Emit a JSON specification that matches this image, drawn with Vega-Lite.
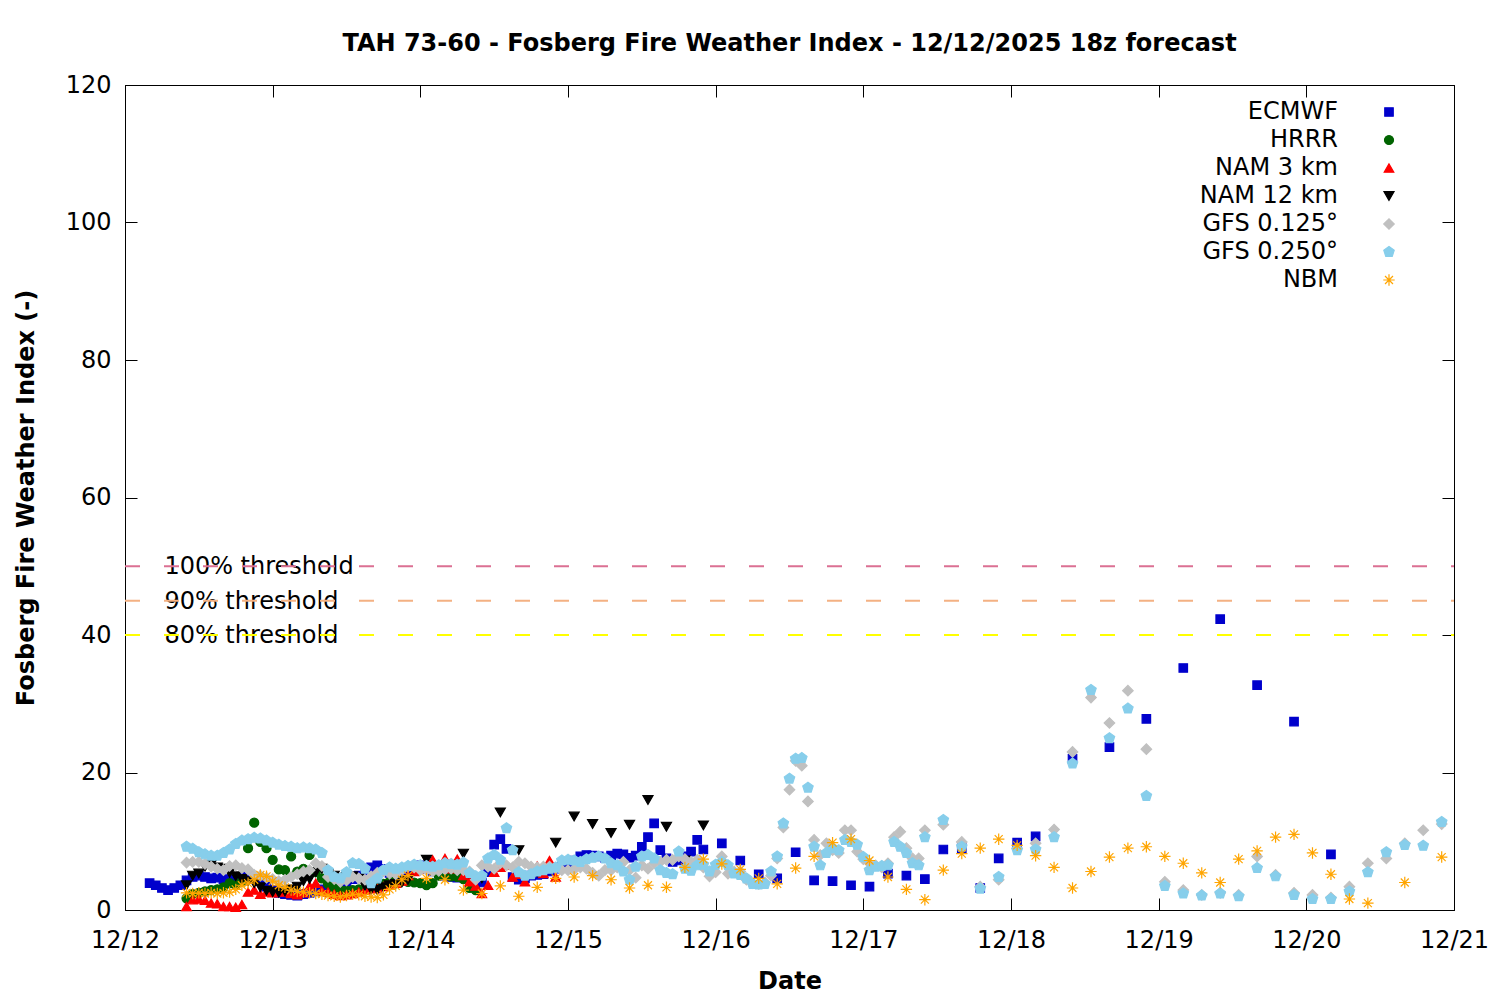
{
  "$schema": "https://vega.github.io/schema/vega-lite/v6.json",
  "description": "Fosberg Fire Weather Index forecast by model for TAH 73-60, 12/12/2025 18z run.",
  "width": 1329,
  "height": 825,
  "autosize": {"type": "none"},
  "padding": {"left": 125, "top": 85, "right": 46, "bottom": 90},
  "background": "white",
  "title": {
    "text": "TAH 73-60 - Fosberg Fire Weather Index - 12/12/2025 18z forecast",
    "fontSize": 24,
    "fontWeight": "bold",
    "color": "black",
    "anchor": "middle",
    "baseline": "middle",
    "offset": 5
  },
  "config": {
    "font": "DejaVu Sans",
    "view": {"stroke": "black", "strokeWidth": 1},
    "axis": {
      "labelFont": "DejaVu Sans",
      "labelFontSize": 24,
      "labelColor": "black",
      "titleFont": "DejaVu Sans",
      "titleFontSize": 24,
      "titleFontWeight": "bold",
      "titleColor": "black",
      "domainColor": "black",
      "tickColor": "black",
      "tickSize": -12,
      "grid": false,
      "labelFlush": false
    }
  },
  "layer": [
    {
      "data": {
        "values": [
          {"label": "100% threshold", "threshold": 50},
          {"label": "90% threshold", "threshold": 45},
          {"label": "80% threshold", "threshold": 40}
        ]
      },
      "layer": [
        {
          "mark": {"type": "text", "align": "left", "baseline": "middle", "dy": 1, "fontSize": 24, "font": "DejaVu Sans", "color": "black"},
          "encoding": {
            "x": {"datum": 6.4, "type": "quantitative", "scale": {"domain": [0, 216], "nice": false, "zero": false},
              "axis": {"orient": "top", "values": [0, 24, 48, 72, 96, 120, 144, 168, 192, 216], "labels": false, "title": null}},
            "y": {"field": "threshold", "type": "quantitative", "scale": {"domain": [0, 120], "nice": false},
              "axis": {"orient": "right", "values": [0, 20, 40, 60, 80, 100, 120], "labels": false, "title": null}},
            "text": {"field": "label"}
          }
        },
        {
          "transform": [{"filter": "datum.threshold == 50"}],
          "mark": {"type": "rule", "color": "#db7093", "strokeWidth": 2, "strokeDash": [15, 24], "strokeDashOffset": 12},
          "encoding": {"y": {"field": "threshold", "type": "quantitative",
            "axis": {"orient": "right", "values": [0, 20, 40, 60, 80, 100, 120], "labels": false, "title": null}}}
        },
        {
          "transform": [{"filter": "datum.threshold == 45"}],
          "mark": {"type": "rule", "color": "#f4b183", "strokeWidth": 2, "strokeDash": [15, 24], "strokeDashOffset": 12},
          "encoding": {"y": {"field": "threshold", "type": "quantitative",
            "axis": {"orient": "right", "values": [0, 20, 40, 60, 80, 100, 120], "labels": false, "title": null}}}
        },
        {
          "transform": [{"filter": "datum.threshold == 40"}],
          "mark": {"type": "rule", "color": "#ffff00", "strokeWidth": 2, "strokeDash": [15, 24], "strokeDashOffset": 12},
          "encoding": {"y": {"field": "threshold", "type": "quantitative",
            "axis": {"orient": "right", "values": [0, 20, 40, 60, 80, 100, 120], "labels": false, "title": null}}}
        }
      ]
    },
    {
      "data": {
        "values": [
          {"model":"ECMWF","hour":4,"fwi":3.9},{"model":"ECMWF","hour":5,"fwi":3.6},{"model":"ECMWF","hour":6,"fwi":3.2},{"model":"ECMWF","hour":7,"fwi":2.9},{"model":"ECMWF","hour":8,"fwi":3.2},{"model":"ECMWF","hour":9,"fwi":3.6},{"model":"ECMWF","hour":10,"fwi":4.3},{"model":"ECMWF","hour":11,"fwi":4.8},{"model":"ECMWF","hour":12,"fwi":5.0},{"model":"ECMWF","hour":13,"fwi":4.8},{"model":"ECMWF","hour":14,"fwi":4.6},{"model":"ECMWF","hour":15,"fwi":4.7},{"model":"ECMWF","hour":16,"fwi":4.5},{"model":"ECMWF","hour":17,"fwi":4.3},{"model":"ECMWF","hour":18,"fwi":4.4},{"model":"ECMWF","hour":19,"fwi":4.8},{"model":"ECMWF","hour":20,"fwi":5.0},{"model":"ECMWF","hour":21,"fwi":4.6},{"model":"ECMWF","hour":22,"fwi":4.2},{"model":"ECMWF","hour":23,"fwi":3.4},{"model":"ECMWF","hour":24,"fwi":2.9},{"model":"ECMWF","hour":25,"fwi":2.5},{"model":"ECMWF","hour":26,"fwi":2.3},{"model":"ECMWF","hour":27,"fwi":2.2},{"model":"ECMWF","hour":28,"fwi":2.1},{"model":"ECMWF","hour":29,"fwi":2.3},{"model":"ECMWF","hour":30,"fwi":2.5},{"model":"ECMWF","hour":31,"fwi":2.7},{"model":"ECMWF","hour":32,"fwi":3.0},{"model":"ECMWF","hour":33,"fwi":3.2},{"model":"ECMWF","hour":34,"fwi":3.5},{"model":"ECMWF","hour":35,"fwi":3.7},{"model":"ECMWF","hour":36,"fwi":4.0},{"model":"ECMWF","hour":37,"fwi":4.5},{"model":"ECMWF","hour":38,"fwi":5.0},{"model":"ECMWF","hour":39,"fwi":5.6},{"model":"ECMWF","hour":40,"fwi":6.2},{"model":"ECMWF","hour":41,"fwi":6.5},{"model":"ECMWF","hour":42,"fwi":6.0},{"model":"ECMWF","hour":43,"fwi":5.4},{"model":"ECMWF","hour":44,"fwi":5.0},{"model":"ECMWF","hour":45,"fwi":5.2},{"model":"ECMWF","hour":46,"fwi":5.6},{"model":"ECMWF","hour":47,"fwi":6.0},{"model":"ECMWF","hour":48,"fwi":6.5},{"model":"ECMWF","hour":49,"fwi":6.0},{"model":"ECMWF","hour":50,"fwi":5.6},{"model":"ECMWF","hour":51,"fwi":5.3},{"model":"ECMWF","hour":52,"fwi":5.0},{"model":"ECMWF","hour":53,"fwi":4.8},{"model":"ECMWF","hour":54,"fwi":4.7},{"model":"ECMWF","hour":55,"fwi":4.9},{"model":"ECMWF","hour":56,"fwi":4.6},{"model":"ECMWF","hour":57,"fwi":4.2},{"model":"ECMWF","hour":58,"fwi":4.0},{"model":"ECMWF","hour":59,"fwi":5.5},{"model":"ECMWF","hour":60,"fwi":9.5},{"model":"ECMWF","hour":61,"fwi":10.3},{"model":"ECMWF","hour":62,"fwi":8.9},{"model":"ECMWF","hour":63,"fwi":4.8},{"model":"ECMWF","hour":64,"fwi":4.4},{"model":"ECMWF","hour":65,"fwi":4.6},{"model":"ECMWF","hour":66,"fwi":5.0},{"model":"ECMWF","hour":67,"fwi":5.1},{"model":"ECMWF","hour":68,"fwi":5.2},{"model":"ECMWF","hour":69,"fwi":5.6},{"model":"ECMWF","hour":70,"fwi":6.0},{"model":"ECMWF","hour":71,"fwi":6.3},{"model":"ECMWF","hour":72,"fwi":6.8},{"model":"ECMWF","hour":73,"fwi":7.2},{"model":"ECMWF","hour":74,"fwi":7.8},{"model":"ECMWF","hour":75,"fwi":8.0},{"model":"ECMWF","hour":76,"fwi":7.9},{"model":"ECMWF","hour":77,"fwi":7.8},{"model":"ECMWF","hour":78,"fwi":7.6},{"model":"ECMWF","hour":79,"fwi":7.9},{"model":"ECMWF","hour":80,"fwi":8.2},{"model":"ECMWF","hour":81,"fwi":8.1},{"model":"ECMWF","hour":82,"fwi":7.6},{"model":"ECMWF","hour":83,"fwi":7.9},{"model":"ECMWF","hour":84,"fwi":9.2},{"model":"ECMWF","hour":85,"fwi":10.6},{"model":"ECMWF","hour":86,"fwi":12.6},{"model":"ECMWF","hour":87,"fwi":8.7},{"model":"ECMWF","hour":88,"fwi":7.5},{"model":"ECMWF","hour":89,"fwi":7.0},{"model":"ECMWF","hour":90,"fwi":7.2},{"model":"ECMWF","hour":91,"fwi":7.8},{"model":"ECMWF","hour":92,"fwi":8.5},{"model":"ECMWF","hour":93,"fwi":10.2},{"model":"ECMWF","hour":94,"fwi":8.8},{"model":"ECMWF","hour":97,"fwi":9.7},{"model":"ECMWF","hour":100,"fwi":7.2},{"model":"ECMWF","hour":103,"fwi":5.2},{"model":"ECMWF","hour":106,"fwi":4.6},{"model":"ECMWF","hour":109,"fwi":8.4},{"model":"ECMWF","hour":112,"fwi":4.3},{"model":"ECMWF","hour":115,"fwi":4.2},{"model":"ECMWF","hour":118,"fwi":3.6},{"model":"ECMWF","hour":121,"fwi":3.4},{"model":"ECMWF","hour":124,"fwi":5.3},{"model":"ECMWF","hour":127,"fwi":5.0},{"model":"ECMWF","hour":130,"fwi":4.5},{"model":"ECMWF","hour":133,"fwi":8.8},{"model":"ECMWF","hour":136,"fwi":9.0},{"model":"ECMWF","hour":139,"fwi":3.2},{"model":"ECMWF","hour":142,"fwi":7.5},{"model":"ECMWF","hour":145,"fwi":9.8},{"model":"ECMWF","hour":148,"fwi":10.7},{"model":"ECMWF","hour":154,"fwi":22.0},{"model":"ECMWF","hour":160,"fwi":23.7},{"model":"ECMWF","hour":166,"fwi":27.8},{"model":"ECMWF","hour":172,"fwi":35.2},{"model":"ECMWF","hour":178,"fwi":42.3},{"model":"ECMWF","hour":184,"fwi":32.7},{"model":"ECMWF","hour":190,"fwi":27.4},{"model":"ECMWF","hour":196,"fwi":8.1},
          {"model":"HRRR","hour":10,"fwi":1.7},{"model":"HRRR","hour":11,"fwi":2.3},{"model":"HRRR","hour":12,"fwi":2.5},{"model":"HRRR","hour":13,"fwi":2.7},{"model":"HRRR","hour":14,"fwi":2.9},{"model":"HRRR","hour":15,"fwi":3.0},{"model":"HRRR","hour":16,"fwi":3.3},{"model":"HRRR","hour":17,"fwi":3.9},{"model":"HRRR","hour":18,"fwi":3.6},{"model":"HRRR","hour":19,"fwi":4.2},{"model":"HRRR","hour":20,"fwi":9.0},{"model":"HRRR","hour":21,"fwi":12.7},{"model":"HRRR","hour":22,"fwi":9.9},{"model":"HRRR","hour":23,"fwi":9.0},{"model":"HRRR","hour":24,"fwi":7.3},{"model":"HRRR","hour":25,"fwi":5.9},{"model":"HRRR","hour":26,"fwi":5.8},{"model":"HRRR","hour":27,"fwi":7.8},{"model":"HRRR","hour":28,"fwi":5.6},{"model":"HRRR","hour":29,"fwi":6.0},{"model":"HRRR","hour":30,"fwi":8.0},{"model":"HRRR","hour":31,"fwi":5.5},{"model":"HRRR","hour":32,"fwi":4.6},{"model":"HRRR","hour":33,"fwi":3.8},{"model":"HRRR","hour":34,"fwi":3.2},{"model":"HRRR","hour":35,"fwi":2.9},{"model":"HRRR","hour":36,"fwi":2.8},{"model":"HRRR","hour":37,"fwi":2.9},{"model":"HRRR","hour":38,"fwi":3.0},{"model":"HRRR","hour":39,"fwi":3.2},{"model":"HRRR","hour":40,"fwi":3.3},{"model":"HRRR","hour":41,"fwi":3.5},{"model":"HRRR","hour":42,"fwi":3.8},{"model":"HRRR","hour":43,"fwi":4.1},{"model":"HRRR","hour":44,"fwi":4.3},{"model":"HRRR","hour":45,"fwi":4.2},{"model":"HRRR","hour":46,"fwi":4.1},{"model":"HRRR","hour":47,"fwi":4.0},{"model":"HRRR","hour":48,"fwi":3.9},{"model":"HRRR","hour":49,"fwi":3.6},{"model":"HRRR","hour":50,"fwi":3.9},{"model":"HRRR","hour":51,"fwi":5.0},{"model":"HRRR","hour":52,"fwi":5.1},{"model":"HRRR","hour":53,"fwi":4.9},{"model":"HRRR","hour":54,"fwi":4.8},{"model":"HRRR","hour":55,"fwi":4.5},{"model":"HRRR","hour":56,"fwi":3.2},{"model":"HRRR","hour":57,"fwi":2.9},
          {"model":"NAM 3 km","hour":10,"fwi":0.5},{"model":"NAM 3 km","hour":11,"fwi":1.5},{"model":"NAM 3 km","hour":12,"fwi":1.6},{"model":"NAM 3 km","hour":13,"fwi":1.4},{"model":"NAM 3 km","hour":14,"fwi":1.0},{"model":"NAM 3 km","hour":15,"fwi":0.9},{"model":"NAM 3 km","hour":16,"fwi":0.5},{"model":"NAM 3 km","hour":17,"fwi":0.5},{"model":"NAM 3 km","hour":18,"fwi":0.4},{"model":"NAM 3 km","hour":19,"fwi":0.8},{"model":"NAM 3 km","hour":20,"fwi":2.6},{"model":"NAM 3 km","hour":21,"fwi":2.9},{"model":"NAM 3 km","hour":22,"fwi":2.3},{"model":"NAM 3 km","hour":23,"fwi":2.6},{"model":"NAM 3 km","hour":24,"fwi":2.5},{"model":"NAM 3 km","hour":25,"fwi":2.7},{"model":"NAM 3 km","hour":26,"fwi":2.6},{"model":"NAM 3 km","hour":27,"fwi":2.4},{"model":"NAM 3 km","hour":28,"fwi":2.2},{"model":"NAM 3 km","hour":29,"fwi":2.5},{"model":"NAM 3 km","hour":30,"fwi":3.5},{"model":"NAM 3 km","hour":31,"fwi":3.9},{"model":"NAM 3 km","hour":32,"fwi":2.8},{"model":"NAM 3 km","hour":33,"fwi":2.6},{"model":"NAM 3 km","hour":34,"fwi":2.3},{"model":"NAM 3 km","hour":35,"fwi":2.1},{"model":"NAM 3 km","hour":36,"fwi":2.2},{"model":"NAM 3 km","hour":37,"fwi":2.4},{"model":"NAM 3 km","hour":38,"fwi":2.6},{"model":"NAM 3 km","hour":39,"fwi":2.9},{"model":"NAM 3 km","hour":40,"fwi":3.2},{"model":"NAM 3 km","hour":41,"fwi":3.1},{"model":"NAM 3 km","hour":42,"fwi":3.4},{"model":"NAM 3 km","hour":43,"fwi":3.6},{"model":"NAM 3 km","hour":44,"fwi":3.9},{"model":"NAM 3 km","hour":45,"fwi":4.2},{"model":"NAM 3 km","hour":46,"fwi":5.0},{"model":"NAM 3 km","hour":47,"fwi":5.6},{"model":"NAM 3 km","hour":48,"fwi":6.0},{"model":"NAM 3 km","hour":49,"fwi":6.5},{"model":"NAM 3 km","hour":50,"fwi":7.3},{"model":"NAM 3 km","hour":51,"fwi":6.2},{"model":"NAM 3 km","hour":52,"fwi":7.5},{"model":"NAM 3 km","hour":53,"fwi":6.0},{"model":"NAM 3 km","hour":54,"fwi":7.4},{"model":"NAM 3 km","hour":55,"fwi":5.0},{"model":"NAM 3 km","hour":56,"fwi":4.1},{"model":"NAM 3 km","hour":57,"fwi":3.5},{"model":"NAM 3 km","hour":58,"fwi":2.4},{"model":"NAM 3 km","hour":59,"fwi":3.6},{"model":"NAM 3 km","hour":60,"fwi":5.5},{"model":"NAM 3 km","hour":61,"fwi":6.2},{"model":"NAM 3 km","hour":62,"fwi":6.5},{"model":"NAM 3 km","hour":63,"fwi":4.8},{"model":"NAM 3 km","hour":64,"fwi":5.2},{"model":"NAM 3 km","hour":65,"fwi":4.1},{"model":"NAM 3 km","hour":66,"fwi":5.6},{"model":"NAM 3 km","hour":67,"fwi":6.4},{"model":"NAM 3 km","hour":68,"fwi":5.3},{"model":"NAM 3 km","hour":69,"fwi":7.2},{"model":"NAM 3 km","hour":70,"fwi":4.8},
          {"model":"NAM 12 km","hour":10,"fwi":3.6},{"model":"NAM 12 km","hour":11,"fwi":5.0},{"model":"NAM 12 km","hour":12,"fwi":5.3},{"model":"NAM 12 km","hour":13,"fwi":6.3},{"model":"NAM 12 km","hour":14,"fwi":6.6},{"model":"NAM 12 km","hour":15,"fwi":6.2},{"model":"NAM 12 km","hour":16,"fwi":6.0},{"model":"NAM 12 km","hour":17,"fwi":5.4},{"model":"NAM 12 km","hour":18,"fwi":4.9},{"model":"NAM 12 km","hour":19,"fwi":4.5},{"model":"NAM 12 km","hour":20,"fwi":4.2},{"model":"NAM 12 km","hour":21,"fwi":3.9},{"model":"NAM 12 km","hour":22,"fwi":3.3},{"model":"NAM 12 km","hour":23,"fwi":2.8},{"model":"NAM 12 km","hour":24,"fwi":2.6},{"model":"NAM 12 km","hour":25,"fwi":2.5},{"model":"NAM 12 km","hour":26,"fwi":2.7},{"model":"NAM 12 km","hour":27,"fwi":3.0},{"model":"NAM 12 km","hour":28,"fwi":3.4},{"model":"NAM 12 km","hour":29,"fwi":4.2},{"model":"NAM 12 km","hour":30,"fwi":4.5},{"model":"NAM 12 km","hour":31,"fwi":5.5},{"model":"NAM 12 km","hour":32,"fwi":6.0},{"model":"NAM 12 km","hour":33,"fwi":5.2},{"model":"NAM 12 km","hour":34,"fwi":5.0},{"model":"NAM 12 km","hour":35,"fwi":4.5},{"model":"NAM 12 km","hour":36,"fwi":4.8},{"model":"NAM 12 km","hour":37,"fwi":4.9},{"model":"NAM 12 km","hour":38,"fwi":4.6},{"model":"NAM 12 km","hour":39,"fwi":3.5},{"model":"NAM 12 km","hour":40,"fwi":3.0},{"model":"NAM 12 km","hour":41,"fwi":2.9},{"model":"NAM 12 km","hour":42,"fwi":3.3},{"model":"NAM 12 km","hour":43,"fwi":3.6},{"model":"NAM 12 km","hour":44,"fwi":3.8},{"model":"NAM 12 km","hour":45,"fwi":4.0},{"model":"NAM 12 km","hour":46,"fwi":4.4},{"model":"NAM 12 km","hour":49,"fwi":7.3},{"model":"NAM 12 km","hour":52,"fwi":6.0},{"model":"NAM 12 km","hour":55,"fwi":8.2},{"model":"NAM 12 km","hour":58,"fwi":4.6},{"model":"NAM 12 km","hour":61,"fwi":14.2},{"model":"NAM 12 km","hour":64,"fwi":8.7},{"model":"NAM 12 km","hour":67,"fwi":5.5},{"model":"NAM 12 km","hour":70,"fwi":9.8},{"model":"NAM 12 km","hour":73,"fwi":13.6},{"model":"NAM 12 km","hour":76,"fwi":12.5},{"model":"NAM 12 km","hour":79,"fwi":11.2},{"model":"NAM 12 km","hour":82,"fwi":12.4},{"model":"NAM 12 km","hour":85,"fwi":16.0},{"model":"NAM 12 km","hour":88,"fwi":12.1},{"model":"NAM 12 km","hour":91,"fwi":7.2},{"model":"NAM 12 km","hour":94,"fwi":12.3},
          {"model":"GFS 0.125°","hour":10,"fwi":6.9},{"model":"GFS 0.125°","hour":11,"fwi":7.0},{"model":"GFS 0.125°","hour":12,"fwi":7.0},{"model":"GFS 0.125°","hour":13,"fwi":6.7},{"model":"GFS 0.125°","hour":14,"fwi":6.3},{"model":"GFS 0.125°","hour":15,"fwi":6.0},{"model":"GFS 0.125°","hour":16,"fwi":5.8},{"model":"GFS 0.125°","hour":17,"fwi":6.4},{"model":"GFS 0.125°","hour":18,"fwi":6.5},{"model":"GFS 0.125°","hour":19,"fwi":6.1},{"model":"GFS 0.125°","hour":20,"fwi":5.9},{"model":"GFS 0.125°","hour":21,"fwi":5.1},{"model":"GFS 0.125°","hour":22,"fwi":5.0},{"model":"GFS 0.125°","hour":23,"fwi":4.7},{"model":"GFS 0.125°","hour":24,"fwi":4.5},{"model":"GFS 0.125°","hour":25,"fwi":4.2},{"model":"GFS 0.125°","hour":26,"fwi":4.4},{"model":"GFS 0.125°","hour":27,"fwi":4.8},{"model":"GFS 0.125°","hour":28,"fwi":5.2},{"model":"GFS 0.125°","hour":29,"fwi":5.6},{"model":"GFS 0.125°","hour":30,"fwi":5.8},{"model":"GFS 0.125°","hour":31,"fwi":6.8},{"model":"GFS 0.125°","hour":32,"fwi":6.4},{"model":"GFS 0.125°","hour":33,"fwi":4.8},{"model":"GFS 0.125°","hour":34,"fwi":4.5},{"model":"GFS 0.125°","hour":35,"fwi":4.1},{"model":"GFS 0.125°","hour":36,"fwi":4.3},{"model":"GFS 0.125°","hour":37,"fwi":4.8},{"model":"GFS 0.125°","hour":38,"fwi":4.6},{"model":"GFS 0.125°","hour":39,"fwi":4.4},{"model":"GFS 0.125°","hour":40,"fwi":4.9},{"model":"GFS 0.125°","hour":41,"fwi":5.4},{"model":"GFS 0.125°","hour":42,"fwi":5.6},{"model":"GFS 0.125°","hour":43,"fwi":5.3},{"model":"GFS 0.125°","hour":44,"fwi":5.2},{"model":"GFS 0.125°","hour":45,"fwi":5.8},{"model":"GFS 0.125°","hour":46,"fwi":6.3},{"model":"GFS 0.125°","hour":47,"fwi":6.2},{"model":"GFS 0.125°","hour":48,"fwi":5.8},{"model":"GFS 0.125°","hour":49,"fwi":5.8},{"model":"GFS 0.125°","hour":50,"fwi":5.6},{"model":"GFS 0.125°","hour":51,"fwi":5.7},{"model":"GFS 0.125°","hour":52,"fwi":5.9},{"model":"GFS 0.125°","hour":53,"fwi":6.0},{"model":"GFS 0.125°","hour":54,"fwi":5.8},{"model":"GFS 0.125°","hour":55,"fwi":5.8},{"model":"GFS 0.125°","hour":56,"fwi":5.6},{"model":"GFS 0.125°","hour":57,"fwi":4.4},{"model":"GFS 0.125°","hour":58,"fwi":6.5},{"model":"GFS 0.125°","hour":59,"fwi":6.3},{"model":"GFS 0.125°","hour":60,"fwi":6.0},{"model":"GFS 0.125°","hour":61,"fwi":6.8},{"model":"GFS 0.125°","hour":62,"fwi":6.5},{"model":"GFS 0.125°","hour":63,"fwi":6.2},{"model":"GFS 0.125°","hour":64,"fwi":7.0},{"model":"GFS 0.125°","hour":65,"fwi":6.8},{"model":"GFS 0.125°","hour":66,"fwi":6.3},{"model":"GFS 0.125°","hour":67,"fwi":6.2},{"model":"GFS 0.125°","hour":68,"fwi":6.3},{"model":"GFS 0.125°","hour":69,"fwi":6.3},{"model":"GFS 0.125°","hour":70,"fwi":6.1},{"model":"GFS 0.125°","hour":71,"fwi":5.8},{"model":"GFS 0.125°","hour":72,"fwi":5.8},{"model":"GFS 0.125°","hour":73,"fwi":5.9},{"model":"GFS 0.125°","hour":74,"fwi":6.2},{"model":"GFS 0.125°","hour":75,"fwi":6.0},{"model":"GFS 0.125°","hour":76,"fwi":5.4},{"model":"GFS 0.125°","hour":77,"fwi":5.0},{"model":"GFS 0.125°","hour":78,"fwi":5.8},{"model":"GFS 0.125°","hour":79,"fwi":5.8},{"model":"GFS 0.125°","hour":80,"fwi":6.2},{"model":"GFS 0.125°","hour":81,"fwi":7.0},{"model":"GFS 0.125°","hour":82,"fwi":5.8},{"model":"GFS 0.125°","hour":83,"fwi":4.7},{"model":"GFS 0.125°","hour":84,"fwi":6.5},{"model":"GFS 0.125°","hour":85,"fwi":6.0},{"model":"GFS 0.125°","hour":86,"fwi":6.8},{"model":"GFS 0.125°","hour":87,"fwi":7.0},{"model":"GFS 0.125°","hour":88,"fwi":7.3},{"model":"GFS 0.125°","hour":89,"fwi":7.3},{"model":"GFS 0.125°","hour":90,"fwi":7.8},{"model":"GFS 0.125°","hour":91,"fwi":7.4},{"model":"GFS 0.125°","hour":92,"fwi":7.0},{"model":"GFS 0.125°","hour":93,"fwi":7.3},{"model":"GFS 0.125°","hour":94,"fwi":6.2},{"model":"GFS 0.125°","hour":95,"fwi":4.9},{"model":"GFS 0.125°","hour":96,"fwi":5.5},{"model":"GFS 0.125°","hour":97,"fwi":7.8},{"model":"GFS 0.125°","hour":98,"fwi":5.3},{"model":"GFS 0.125°","hour":99,"fwi":5.6},{"model":"GFS 0.125°","hour":100,"fwi":5.6},{"model":"GFS 0.125°","hour":101,"fwi":4.4},{"model":"GFS 0.125°","hour":102,"fwi":3.9},{"model":"GFS 0.125°","hour":103,"fwi":3.8},{"model":"GFS 0.125°","hour":104,"fwi":4.0},{"model":"GFS 0.125°","hour":105,"fwi":5.0},{"model":"GFS 0.125°","hour":106,"fwi":7.5},{"model":"GFS 0.125°","hour":107,"fwi":12.0},{"model":"GFS 0.125°","hour":108,"fwi":17.5},{"model":"GFS 0.125°","hour":109,"fwi":21.7},{"model":"GFS 0.125°","hour":110,"fwi":21.0},{"model":"GFS 0.125°","hour":111,"fwi":15.8},{"model":"GFS 0.125°","hour":112,"fwi":10.2},{"model":"GFS 0.125°","hour":113,"fwi":8.0},{"model":"GFS 0.125°","hour":114,"fwi":9.7},{"model":"GFS 0.125°","hour":115,"fwi":8.7},{"model":"GFS 0.125°","hour":116,"fwi":8.3},{"model":"GFS 0.125°","hour":117,"fwi":11.6},{"model":"GFS 0.125°","hour":118,"fwi":11.6},{"model":"GFS 0.125°","hour":119,"fwi":8.5},{"model":"GFS 0.125°","hour":120,"fwi":7.4},{"model":"GFS 0.125°","hour":121,"fwi":6.8},{"model":"GFS 0.125°","hour":122,"fwi":6.5},{"model":"GFS 0.125°","hour":123,"fwi":6.2},{"model":"GFS 0.125°","hour":124,"fwi":6.8},{"model":"GFS 0.125°","hour":125,"fwi":10.6},{"model":"GFS 0.125°","hour":126,"fwi":11.4},{"model":"GFS 0.125°","hour":127,"fwi":9.0},{"model":"GFS 0.125°","hour":128,"fwi":7.5},{"model":"GFS 0.125°","hour":129,"fwi":7.5},{"model":"GFS 0.125°","hour":130,"fwi":11.6},{"model":"GFS 0.125°","hour":133,"fwi":12.4},{"model":"GFS 0.125°","hour":136,"fwi":9.9},{"model":"GFS 0.125°","hour":139,"fwi":3.4},{"model":"GFS 0.125°","hour":142,"fwi":4.4},{"model":"GFS 0.125°","hour":145,"fwi":9.0},{"model":"GFS 0.125°","hour":148,"fwi":9.7},{"model":"GFS 0.125°","hour":151,"fwi":11.7},{"model":"GFS 0.125°","hour":154,"fwi":23.0},{"model":"GFS 0.125°","hour":157,"fwi":30.9},{"model":"GFS 0.125°","hour":160,"fwi":27.2},{"model":"GFS 0.125°","hour":163,"fwi":31.9},{"model":"GFS 0.125°","hour":166,"fwi":23.4},{"model":"GFS 0.125°","hour":169,"fwi":4.1},{"model":"GFS 0.125°","hour":172,"fwi":2.9},{"model":"GFS 0.125°","hour":175,"fwi":2.2},{"model":"GFS 0.125°","hour":178,"fwi":2.5},{"model":"GFS 0.125°","hour":181,"fwi":2.2},{"model":"GFS 0.125°","hour":184,"fwi":7.8},{"model":"GFS 0.125°","hour":187,"fwi":5.1},{"model":"GFS 0.125°","hour":190,"fwi":2.5},{"model":"GFS 0.125°","hour":193,"fwi":2.2},{"model":"GFS 0.125°","hour":196,"fwi":1.8},{"model":"GFS 0.125°","hour":199,"fwi":3.4},{"model":"GFS 0.125°","hour":202,"fwi":6.8},{"model":"GFS 0.125°","hour":205,"fwi":7.5},{"model":"GFS 0.125°","hour":208,"fwi":9.7},{"model":"GFS 0.125°","hour":211,"fwi":11.6},{"model":"GFS 0.125°","hour":214,"fwi":12.5},
          {"model":"GFS 0.250°","hour":10,"fwi":9.2},{"model":"GFS 0.250°","hour":11,"fwi":8.9},{"model":"GFS 0.250°","hour":12,"fwi":8.4},{"model":"GFS 0.250°","hour":13,"fwi":8.1},{"model":"GFS 0.250°","hour":14,"fwi":7.9},{"model":"GFS 0.250°","hour":15,"fwi":7.9},{"model":"GFS 0.250°","hour":16,"fwi":8.3},{"model":"GFS 0.250°","hour":17,"fwi":8.8},{"model":"GFS 0.250°","hour":18,"fwi":9.6},{"model":"GFS 0.250°","hour":19,"fwi":10.1},{"model":"GFS 0.250°","hour":20,"fwi":10.3},{"model":"GFS 0.250°","hour":21,"fwi":10.5},{"model":"GFS 0.250°","hour":22,"fwi":10.4},{"model":"GFS 0.250°","hour":23,"fwi":10.1},{"model":"GFS 0.250°","hour":24,"fwi":9.8},{"model":"GFS 0.250°","hour":25,"fwi":9.5},{"model":"GFS 0.250°","hour":26,"fwi":9.3},{"model":"GFS 0.250°","hour":27,"fwi":9.2},{"model":"GFS 0.250°","hour":28,"fwi":9.0},{"model":"GFS 0.250°","hour":29,"fwi":9.1},{"model":"GFS 0.250°","hour":30,"fwi":9.0},{"model":"GFS 0.250°","hour":31,"fwi":8.8},{"model":"GFS 0.250°","hour":32,"fwi":8.3},{"model":"GFS 0.250°","hour":33,"fwi":5.8},{"model":"GFS 0.250°","hour":34,"fwi":4.8},{"model":"GFS 0.250°","hour":35,"fwi":4.6},{"model":"GFS 0.250°","hour":36,"fwi":5.5},{"model":"GFS 0.250°","hour":37,"fwi":6.8},{"model":"GFS 0.250°","hour":38,"fwi":6.7},{"model":"GFS 0.250°","hour":39,"fwi":6.0},{"model":"GFS 0.250°","hour":40,"fwi":3.9},{"model":"GFS 0.250°","hour":41,"fwi":4.6},{"model":"GFS 0.250°","hour":42,"fwi":5.8},{"model":"GFS 0.250°","hour":43,"fwi":6.2},{"model":"GFS 0.250°","hour":44,"fwi":6.0},{"model":"GFS 0.250°","hour":45,"fwi":6.2},{"model":"GFS 0.250°","hour":46,"fwi":6.4},{"model":"GFS 0.250°","hour":47,"fwi":6.6},{"model":"GFS 0.250°","hour":48,"fwi":6.5},{"model":"GFS 0.250°","hour":49,"fwi":6.4},{"model":"GFS 0.250°","hour":50,"fwi":6.3},{"model":"GFS 0.250°","hour":51,"fwi":6.5},{"model":"GFS 0.250°","hour":52,"fwi":6.8},{"model":"GFS 0.250°","hour":53,"fwi":6.7},{"model":"GFS 0.250°","hour":54,"fwi":6.6},{"model":"GFS 0.250°","hour":55,"fwi":6.9},{"model":"GFS 0.250°","hour":56,"fwi":5.4},{"model":"GFS 0.250°","hour":57,"fwi":4.9},{"model":"GFS 0.250°","hour":58,"fwi":5.0},{"model":"GFS 0.250°","hour":59,"fwi":7.5},{"model":"GFS 0.250°","hour":60,"fwi":8.0},{"model":"GFS 0.250°","hour":61,"fwi":7.3},{"model":"GFS 0.250°","hour":62,"fwi":11.9},{"model":"GFS 0.250°","hour":63,"fwi":8.7},{"model":"GFS 0.250°","hour":64,"fwi":5.5},{"model":"GFS 0.250°","hour":65,"fwi":5.0},{"model":"GFS 0.250°","hour":66,"fwi":5.2},{"model":"GFS 0.250°","hour":67,"fwi":5.6},{"model":"GFS 0.250°","hour":68,"fwi":5.8},{"model":"GFS 0.250°","hour":69,"fwi":6.0},{"model":"GFS 0.250°","hour":70,"fwi":6.2},{"model":"GFS 0.250°","hour":71,"fwi":7.2},{"model":"GFS 0.250°","hour":72,"fwi":7.3},{"model":"GFS 0.250°","hour":73,"fwi":7.2},{"model":"GFS 0.250°","hour":74,"fwi":7.0},{"model":"GFS 0.250°","hour":75,"fwi":7.4},{"model":"GFS 0.250°","hour":76,"fwi":7.6},{"model":"GFS 0.250°","hour":77,"fwi":7.8},{"model":"GFS 0.250°","hour":78,"fwi":7.5},{"model":"GFS 0.250°","hour":79,"fwi":6.8},{"model":"GFS 0.250°","hour":80,"fwi":6.5},{"model":"GFS 0.250°","hour":81,"fwi":5.6},{"model":"GFS 0.250°","hour":82,"fwi":4.4},{"model":"GFS 0.250°","hour":83,"fwi":6.3},{"model":"GFS 0.250°","hour":84,"fwi":7.8},{"model":"GFS 0.250°","hour":85,"fwi":8.0},{"model":"GFS 0.250°","hour":86,"fwi":7.5},{"model":"GFS 0.250°","hour":87,"fwi":5.8},{"model":"GFS 0.250°","hour":88,"fwi":5.4},{"model":"GFS 0.250°","hour":89,"fwi":5.2},{"model":"GFS 0.250°","hour":90,"fwi":8.5},{"model":"GFS 0.250°","hour":91,"fwi":6.0},{"model":"GFS 0.250°","hour":92,"fwi":5.7},{"model":"GFS 0.250°","hour":93,"fwi":6.5},{"model":"GFS 0.250°","hour":94,"fwi":6.6},{"model":"GFS 0.250°","hour":95,"fwi":5.6},{"model":"GFS 0.250°","hour":96,"fwi":6.6},{"model":"GFS 0.250°","hour":97,"fwi":7.0},{"model":"GFS 0.250°","hour":98,"fwi":6.5},{"model":"GFS 0.250°","hour":99,"fwi":5.3},{"model":"GFS 0.250°","hour":100,"fwi":5.1},{"model":"GFS 0.250°","hour":101,"fwi":4.6},{"model":"GFS 0.250°","hour":102,"fwi":3.8},{"model":"GFS 0.250°","hour":103,"fwi":3.7},{"model":"GFS 0.250°","hour":104,"fwi":3.8},{"model":"GFS 0.250°","hour":105,"fwi":5.6},{"model":"GFS 0.250°","hour":106,"fwi":7.8},{"model":"GFS 0.250°","hour":107,"fwi":12.6},{"model":"GFS 0.250°","hour":108,"fwi":19.1},{"model":"GFS 0.250°","hour":109,"fwi":22.0},{"model":"GFS 0.250°","hour":110,"fwi":22.1},{"model":"GFS 0.250°","hour":111,"fwi":17.8},{"model":"GFS 0.250°","hour":112,"fwi":9.2},{"model":"GFS 0.250°","hour":113,"fwi":6.5},{"model":"GFS 0.250°","hour":114,"fwi":8.3},{"model":"GFS 0.250°","hour":115,"fwi":9.0},{"model":"GFS 0.250°","hour":116,"fwi":8.7},{"model":"GFS 0.250°","hour":117,"fwi":10.2},{"model":"GFS 0.250°","hour":118,"fwi":9.9},{"model":"GFS 0.250°","hour":119,"fwi":9.5},{"model":"GFS 0.250°","hour":120,"fwi":7.7},{"model":"GFS 0.250°","hour":121,"fwi":5.8},{"model":"GFS 0.250°","hour":122,"fwi":6.3},{"model":"GFS 0.250°","hour":123,"fwi":6.4},{"model":"GFS 0.250°","hour":124,"fwi":6.5},{"model":"GFS 0.250°","hour":125,"fwi":9.9},{"model":"GFS 0.250°","hour":126,"fwi":9.2},{"model":"GFS 0.250°","hour":127,"fwi":8.3},{"model":"GFS 0.250°","hour":128,"fwi":6.8},{"model":"GFS 0.250°","hour":129,"fwi":6.5},{"model":"GFS 0.250°","hour":130,"fwi":10.6},{"model":"GFS 0.250°","hour":133,"fwi":13.1},{"model":"GFS 0.250°","hour":136,"fwi":9.2},{"model":"GFS 0.250°","hour":139,"fwi":3.1},{"model":"GFS 0.250°","hour":142,"fwi":4.8},{"model":"GFS 0.250°","hour":145,"fwi":8.7},{"model":"GFS 0.250°","hour":148,"fwi":8.8},{"model":"GFS 0.250°","hour":151,"fwi":10.6},{"model":"GFS 0.250°","hour":154,"fwi":21.3},{"model":"GFS 0.250°","hour":157,"fwi":32.0},{"model":"GFS 0.250°","hour":160,"fwi":25.0},{"model":"GFS 0.250°","hour":163,"fwi":29.3},{"model":"GFS 0.250°","hour":166,"fwi":16.6},{"model":"GFS 0.250°","hour":169,"fwi":3.5},{"model":"GFS 0.250°","hour":172,"fwi":2.4},{"model":"GFS 0.250°","hour":175,"fwi":2.1},{"model":"GFS 0.250°","hour":178,"fwi":2.4},{"model":"GFS 0.250°","hour":181,"fwi":2.0},{"model":"GFS 0.250°","hour":184,"fwi":6.1},{"model":"GFS 0.250°","hour":187,"fwi":4.9},{"model":"GFS 0.250°","hour":190,"fwi":2.2},{"model":"GFS 0.250°","hour":193,"fwi":1.6},{"model":"GFS 0.250°","hour":196,"fwi":1.6},{"model":"GFS 0.250°","hour":199,"fwi":2.7},{"model":"GFS 0.250°","hour":202,"fwi":5.5},{"model":"GFS 0.250°","hour":205,"fwi":8.4},{"model":"GFS 0.250°","hour":208,"fwi":9.45},{"model":"GFS 0.250°","hour":211,"fwi":9.35},{"model":"GFS 0.250°","hour":214,"fwi":12.8},
          {"model":"NBM","hour":10,"fwi":2.5},{"model":"NBM","hour":11,"fwi":2.4},{"model":"NBM","hour":12,"fwi":2.5},{"model":"NBM","hour":13,"fwi":2.4},{"model":"NBM","hour":14,"fwi":2.5},{"model":"NBM","hour":15,"fwi":2.4},{"model":"NBM","hour":16,"fwi":2.5},{"model":"NBM","hour":17,"fwi":2.6},{"model":"NBM","hour":18,"fwi":3.0},{"model":"NBM","hour":19,"fwi":3.6},{"model":"NBM","hour":20,"fwi":3.9},{"model":"NBM","hour":21,"fwi":4.4},{"model":"NBM","hour":22,"fwi":5.1},{"model":"NBM","hour":23,"fwi":4.9},{"model":"NBM","hour":24,"fwi":4.2},{"model":"NBM","hour":25,"fwi":3.6},{"model":"NBM","hour":26,"fwi":3.3},{"model":"NBM","hour":27,"fwi":2.9},{"model":"NBM","hour":28,"fwi":2.7},{"model":"NBM","hour":29,"fwi":2.6},{"model":"NBM","hour":30,"fwi":2.5},{"model":"NBM","hour":31,"fwi":2.4},{"model":"NBM","hour":32,"fwi":2.3},{"model":"NBM","hour":33,"fwi":2.1},{"model":"NBM","hour":34,"fwi":2.0},{"model":"NBM","hour":35,"fwi":1.9},{"model":"NBM","hour":36,"fwi":2.1},{"model":"NBM","hour":37,"fwi":2.3},{"model":"NBM","hour":38,"fwi":2.2},{"model":"NBM","hour":39,"fwi":2.0},{"model":"NBM","hour":40,"fwi":1.9},{"model":"NBM","hour":41,"fwi":1.8},{"model":"NBM","hour":42,"fwi":2.2},{"model":"NBM","hour":43,"fwi":3.0},{"model":"NBM","hour":44,"fwi":3.5},{"model":"NBM","hour":45,"fwi":4.4},{"model":"NBM","hour":46,"fwi":5.0},{"model":"NBM","hour":49,"fwi":4.6},{"model":"NBM","hour":52,"fwi":4.4},{"model":"NBM","hour":55,"fwi":2.9},{"model":"NBM","hour":58,"fwi":2.4},{"model":"NBM","hour":61,"fwi":3.5},{"model":"NBM","hour":64,"fwi":2.0},{"model":"NBM","hour":67,"fwi":3.3},{"model":"NBM","hour":70,"fwi":4.6},{"model":"NBM","hour":73,"fwi":4.8},{"model":"NBM","hour":76,"fwi":5.0},{"model":"NBM","hour":79,"fwi":4.4},{"model":"NBM","hour":82,"fwi":3.2},{"model":"NBM","hour":85,"fwi":3.6},{"model":"NBM","hour":88,"fwi":3.3},{"model":"NBM","hour":91,"fwi":6.2},{"model":"NBM","hour":94,"fwi":7.4},{"model":"NBM","hour":97,"fwi":6.7},{"model":"NBM","hour":100,"fwi":5.9},{"model":"NBM","hour":103,"fwi":4.6},{"model":"NBM","hour":106,"fwi":3.8},{"model":"NBM","hour":109,"fwi":6.1},{"model":"NBM","hour":112,"fwi":7.8},{"model":"NBM","hour":115,"fwi":9.8},{"model":"NBM","hour":118,"fwi":10.3},{"model":"NBM","hour":121,"fwi":7.2},{"model":"NBM","hour":124,"fwi":4.8},{"model":"NBM","hour":127,"fwi":3.0},{"model":"NBM","hour":130,"fwi":1.5},{"model":"NBM","hour":133,"fwi":5.8},{"model":"NBM","hour":136,"fwi":8.2},{"model":"NBM","hour":139,"fwi":9.0},{"model":"NBM","hour":142,"fwi":10.3},{"model":"NBM","hour":145,"fwi":9.4},{"model":"NBM","hour":148,"fwi":7.9},{"model":"NBM","hour":151,"fwi":6.2},{"model":"NBM","hour":154,"fwi":3.2},{"model":"NBM","hour":157,"fwi":5.6},{"model":"NBM","hour":160,"fwi":7.7},{"model":"NBM","hour":163,"fwi":9.0},{"model":"NBM","hour":166,"fwi":9.2},{"model":"NBM","hour":169,"fwi":7.8},{"model":"NBM","hour":172,"fwi":6.8},{"model":"NBM","hour":175,"fwi":5.4},{"model":"NBM","hour":178,"fwi":4.0},{"model":"NBM","hour":181,"fwi":7.4},{"model":"NBM","hour":184,"fwi":8.6},{"model":"NBM","hour":187,"fwi":10.6},{"model":"NBM","hour":190,"fwi":11.0},{"model":"NBM","hour":193,"fwi":8.3},{"model":"NBM","hour":196,"fwi":5.2},{"model":"NBM","hour":199,"fwi":1.6},{"model":"NBM","hour":202,"fwi":1.0},{"model":"NBM","hour":208,"fwi":4.0},{"model":"NBM","hour":214,"fwi":7.7}
        ]
      },
      "mark": {"type": "point", "filled": true, "opacity": 1, "strokeWidth": 1.2},
      "encoding": {
        "x": {
          "field": "hour",
          "type": "quantitative",
          "scale": {"domain": [0, 216], "nice": false, "zero": false},
          "axis": {
            "orient": "bottom",
            "values": [0, 24, 48, 72, 96, 120, 144, 168, 192, 216],
            "labelExpr": "'12/' + (12 + datum.value / 24)",
            "title": "Date",
            "labelPadding": 30,
            "titlePadding": 17
          }
        },
        "y": {
          "field": "fwi",
          "type": "quantitative",
          "scale": {"domain": [0, 120], "nice": false},
          "axis": {
            "orient": "left",
            "values": [0, 20, 40, 60, 80, 100, 120],
            "title": "Fosberg Fire Weather Index (-)",
            "labelPadding": 26,
            "titlePadding": 27
          }
        },
        "color": {
          "field": "model",
          "type": "nominal",
          "scale": {
            "domain": ["ECMWF", "HRRR", "NAM 3 km", "NAM 12 km", "GFS 0.125°", "GFS 0.250°", "NBM"],
            "range": ["#0000cc", "#006400", "#ff0000", "#000000", "#c0c0c0", "#87ceeb", "#ffa500"]
          },
          "legend": {
            "title": null,
            "orient": "none",
            "legendX": 1252,
            "legendY": 15,
            "padding": 0,
            "labelAlign": "right",
            "labelOffset": -63,
            "labelFont": "DejaVu Sans",
            "labelFontSize": 24,
            "labelColor": "black",
            "labelLimit": 300,
            "symbolSize": 80,
            "symbolStrokeWidth": 1.2,
            "rowPadding": 4,
            "encode": {"symbols": {"update": {"stroke": {"scale": "color", "field": "value"}}}}
          }
        },
        "stroke": {
          "field": "model",
          "type": "nominal",
          "scale": {
            "domain": ["ECMWF", "HRRR", "NAM 3 km", "NAM 12 km", "GFS 0.125°", "GFS 0.250°", "NBM"],
            "range": ["#0000cc", "#006400", "#ff0000", "#000000", "#c0c0c0", "#87ceeb", "#ffa500"]
          },
          "legend": null
        },
        "shape": {
          "field": "model",
          "type": "nominal",
          "scale": {
            "domain": ["ECMWF", "HRRR", "NAM 3 km", "NAM 12 km", "GFS 0.125°", "GFS 0.250°", "NBM"],
            "range": ["square", "circle", "triangle-up", "triangle-down", "diamond", "M0,-1L0.951,-0.309L0.588,0.809L-0.588,0.809L-0.951,-0.309Z", "M-1,0L1,0M0,-1L0,1M-0.7,-0.7L0.7,0.7M-0.7,0.7L0.7,-0.7"]
          }
        },
        "size": {
          "field": "model",
          "type": "nominal",
          "scale": {
            "domain": ["ECMWF", "HRRR", "NAM 3 km", "NAM 12 km", "GFS 0.125°", "GFS 0.250°", "NBM"],
            "range": [72, 130, 150, 130, 130, 134, 130]
          },
          "legend": null
        }
      }
    }
  ],
  "resolve": {"axis": {"x": "independent", "y": "independent"}}
}
